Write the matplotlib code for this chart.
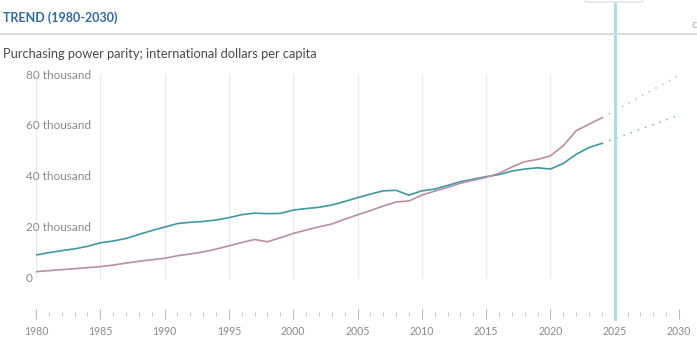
import matplotlib
matplotlib.use("Agg")
import matplotlib.pyplot as plt
from matplotlib.patches import FancyBboxPatch
from matplotlib.ticker import MultipleLocator

plt.rcParams["font.family"] = ["Lato", "DejaVu Sans"]

# GDP per capita, PPP (thousand international dollars)
years = list(range(1980, 2025))
teal_vals = [9.1, 10.0, 10.8, 11.5, 12.5, 13.9, 14.6, 15.6, 17.2, 18.7,
             20.1, 21.5, 22.0, 22.3, 22.9, 23.8, 25.0, 25.6, 25.4, 25.5,
             26.8, 27.4, 27.9, 28.8, 30.2, 31.7, 33.1, 34.4, 34.6, 32.7,
             34.4, 35.1, 36.5, 38.0, 39.0, 40.0, 40.8, 42.2, 43.0, 43.5,
             43.0, 45.2, 48.8, 51.5, 53.1]
pink_vals = [2.5, 2.9, 3.3, 3.7, 4.1, 4.5, 5.1, 5.9, 6.6, 7.2,
             7.8, 8.8, 9.5, 10.3, 11.4, 12.7, 14.0, 15.2, 14.3, 15.9,
             17.6, 18.9, 20.2, 21.3, 23.2, 24.9, 26.6, 28.4, 30.0, 30.4,
             32.7, 34.3, 35.7, 37.4, 38.6, 39.7, 41.3, 43.8, 45.9, 46.8,
             48.2, 52.2, 58.1, 60.7, 63.2]

# projections
proj_years = list(range(2024, 2031))
teal_proj = [53.1, 55.0, 56.8, 58.7, 60.6, 62.4, 64.3]
pink_proj = [63.2, 66.0, 68.8, 71.6, 74.4, 77.2, 80.0]

y_ticks = [0, 20, 40, 60, 80]
y_labels = ["0", "20 thousand", "40 thousand", "60 thousand", "80 thousand"]
grid_years = [1980, 1985, 1990, 1995, 2000, 2005, 2010, 2015, 2020, 2030]
current_year = 2025

TEAL = "#3f98a3"
PINK = "#bb8ea4"
CYAN = "#a6dde1"
GRID = "#ebebeb"
TEXT = "#8a8a8a"

W, H = 697, 342
fig = plt.figure(figsize=(W / 100, H / 100), dpi=100)

# plot area: x 1980->2030 spans px 36..679, axes top at 73 px, bottom at 314 px
ax = fig.add_axes([36 / W, (H - 314) / H, 643 / W, 241 / H])
ax.set_xlim(1980, 2030)
ax.set_ylim(-14.2, 80.9)
for s in ax.spines.values():
    s.set_visible(False)
ax.set_yticks([])

ax.vlines(grid_years, 0, 80.5, color=GRID, lw=1.0, zorder=1)

ax.plot(years, teal_vals, color=TEAL, lw=1.2, zorder=3)
ax.plot(years, pink_vals, color=PINK, lw=1.2, zorder=3)
ax.plot(proj_years, teal_proj, color=TEAL, lw=1.1, ls=(0, (1, 4)), alpha=0.7, zorder=3)
ax.plot(proj_years, pink_proj, color=PINK, lw=1.1, ls=(0, (1, 4)), alpha=0.7, zorder=3)

for v, lab in zip(y_ticks, y_labels):
    ax.text(-10 / 643, v, lab, transform=ax.get_yaxis_transform(),
            ha="left", va="center", fontsize=8.5, color=TEXT)

ax.xaxis.set_major_locator(MultipleLocator(5))
ax.xaxis.set_minor_locator(MultipleLocator(1))
ax.tick_params(axis="x", which="major", direction="inout", length=7, width=0.8,
               color="#bcbcbc", labelsize=7.6, labelcolor=TEXT, pad=5)
ax.tick_params(axis="x", which="minor", direction="inout", length=3, width=0.7,
               color="#c8c8c8")

# current-year marker running to the top of the panel
ax.axvline(current_year, ymin=-0.021, ymax=1.31, color=CYAN, lw=2.0,
           clip_on=False, zorder=4)

# header
fig.text(3 / W, 1 - 18 / H, "TREND (1980-2030)", fontsize=9, fontweight="bold",
         color="#2f6aa8", ha="left", va="center")
fig.add_artist(plt.Line2D([0, 1], [1 - 34 / H] * 2, color="#dcdcdc", lw=1.5))
fig.text(3 / W, 1 - 54 / H, "Purchasing power parity; international dollars per capita",
         fontsize=9.3, color="#4a4a4a", ha="left", va="center")
fig.text(692 / W, 1 - 24 / H, "c", fontsize=8, color="#aaaaaa", ha="left", va="center")
fig.add_artist(FancyBboxPatch((585 / W, 1 - 2 / H), 58 / W, 6 / H,
                              boxstyle="round,pad=0,rounding_size=0.004",
                              fc="white", ec="#e2e2e2", lw=1.0,
                              transform=fig.transFigure))

fig.savefig("out.png", dpi=100, facecolor="white")
